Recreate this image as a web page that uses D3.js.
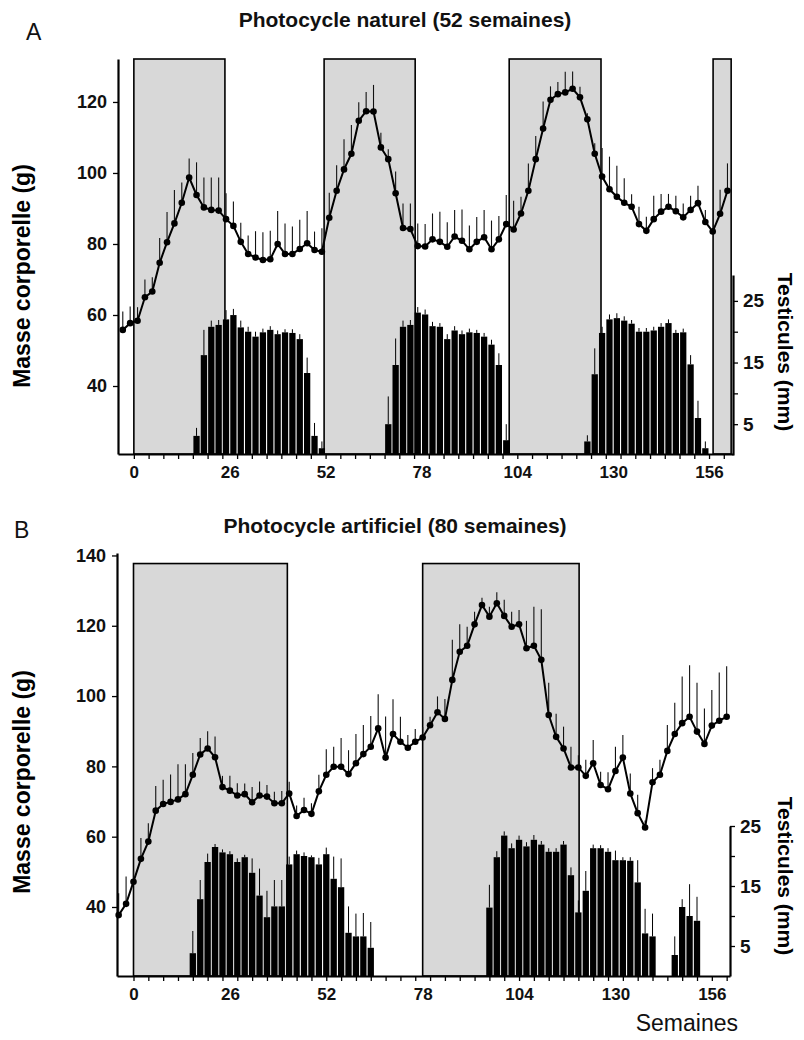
<!DOCTYPE html>
<html><head><meta charset="utf-8">
<script src="https://cdn.jsdelivr.net/npm/d3@7"></script>
<style>
body{margin:0;background:#fff}
text{font-family:"Liberation Sans",Arial,Helvetica,sans-serif}
</style>
</head><body>
<svg id="chart" width="804" height="1040"></svg>
<script>
// ---------------- DATA ----------------
// Panel A: natural photocycle (52 weeks)
const weeksA = [-3,-1,1,3,5,7,9,11,13,15,17,19,21,23,25,27,29,31,33,35,37,39,41,43,45,47,49,51,53,55,57,59,61,63,65,67,69,71,73,75,77,79,81,83,85,87,89,91,93,95,97,99,101,103,105,107,109,111,113,115,117,119,121,123,125,127,129,131,133,135,137,139,141,143,145,147,149,151,153,155,157,159,161];
const massA = [55.8,57.7,58.4,65.0,66.6,74.7,80.5,85.8,91.6,98.7,
  93.8,90.3,89.6,89.4,87.0,85.1,80.6,77.2,76.2,75.5,
  75.7,80.0,77.2,77.2,78.6,80.2,78.3,77.8,87.4,95.0,
  101.0,105.4,114.7,117.4,117.3,107.2,103.9,94.3,84.5,84.2,
  79.4,79.3,81.3,80.6,79.2,82.1,80.9,78.5,80.6,81.9,
  78.5,81.3,85.6,84.1,88.6,95.0,103.9,112.5,120.6,122.2,
  122.7,123.7,121.3,115.1,105.4,99.0,95.4,93.3,91.6,90.5,
  85.6,83.7,87.0,89.1,90.5,89.2,87.5,89.6,91.5,86.2,
  83.5,88.5,95.0];
const massErrA = [5.2,4.7,3.8,5.0,4.0,7.0,8.5,9.4,5.7,5.4,
  9.2,8.4,9.1,9.3,7.3,6.9,5.4,5.2,7.4,7.8,
  8.0,9.3,8.6,7.7,8.2,9.1,5.2,6.6,7.0,7.2,
  8.5,8.1,5.2,5.4,7.5,4.1,2.8,6.1,6.9,7.2,
  6.4,6.3,7.3,8.5,6.9,7.5,8.8,6.7,7.0,7.7,
  8.1,6.6,8.2,8.1,4.7,7.7,6.5,7.6,3.8,3.4,
  5.8,4.9,3.0,1.7,3.0,8.0,9.2,8.7,6.9,3.5,
  4.9,4.0,6.6,5.0,3.6,4.4,3.9,4.0,4.9,3.4,
  1.0,6.8,7.7];
const testisWeeksA = [17,19,21,23,25,27,29,31,33,35,37,39,41,43,45,47,49,51,
  69,71,73,75,77,79,81,83,85,87,89,91,93,95,97,99,101,
  123,125,127,129,131,133,135,137,139,141,143,145,147,149,151,153,155];
const testisA = [3.1,16.2,20.8,21.1,22.0,22.7,20.7,20.0,19.2,19.9,20.3,19.6,19.9,19.8,18.8,13.3,3.1,1.1,
  5.0,14.6,20.8,21.1,23.1,22.8,20.9,20.8,18.8,20.2,19.6,19.9,19.8,19.2,17.9,14.6,2.4,
  2.2,13.1,19.8,22.0,22.2,21.8,21.3,20.0,20.0,20.2,20.8,21.4,19.8,19.9,14.7,6.0,1.1];
const testisErrA = [1.3,4.1,1.0,0.8,1.5,1.0,1.1,0.8,0.8,0.6,0.6,0.6,0.5,0.6,0.8,2.5,2.1,1.1,
  4.5,4.3,1.0,0.8,0.9,0.8,0.7,0.6,0.8,0.7,0.6,0.6,0.5,0.6,0.8,1.9,2.6,
  1.0,4.2,1.0,0.8,0.8,0.7,0.6,0.6,0.6,0.6,0.6,0.6,0.5,0.6,1.5,2.8,1.1];
const shortDaysA = [[0,24.7],[51.6,76.3],[101.8,126.7],[157.1,162.0]];

// Panel B: artificial photocycle (80 weeks)
const weeksB = [-4,-2,0,2,4,6,8,10,12,14,16,18,20,22,24,26,28,30,32,34,36,38,40,42,44,46,48,50,52,54,56,58,60,62,64,66,68,70,72,74,76,78,80,82,84,86,88,90,92,94,96,98,100,102,104,106,108,110,112,114,116,118,120,122,124,126,128,130,132,134,136,138,140,142,144,146,148,150,152,154,156,158,160];
const massB = [37.7,40.9,47.2,53.7,58.6,67.4,69.3,69.9,70.6,72.1,
  77.6,83.4,85.1,82.6,74.1,73.1,71.7,72.1,69.8,71.7,
  71.4,69.5,69.5,72.3,65.9,67.6,66.5,72.9,77.6,79.9,
  79.9,77.8,80.9,83.5,85.6,90.8,82.5,89.2,87.0,85.3,
  87.0,88.2,91.7,95.4,93.5,104.6,112.6,114.3,120.4,125.9,
  122.6,126.4,122.8,119.7,120.4,113.6,114.3,110.3,94.6,88.4,
  85.1,79.7,79.7,77.3,80.9,74.7,73.5,78.7,82.5,72.3,
  66.7,62.6,75.5,77.6,84.4,89.2,92.3,94.1,89.9,86.4,
  91.6,93.0,94.1];
const massErrB = [6.2,7.8,3.0,5.9,5.2,7.0,6.9,7.8,10.0,8.5,
  6.2,4.7,4.9,5.9,3.2,4.2,3.5,3.0,4.3,4.0,
  3.3,3.3,3.5,3.3,3.0,3.5,3.0,4.7,7.3,5.7,
  8.2,6.8,8.3,8.3,8.7,9.7,11.7,9.9,7.1,3.6,
  3.6,3.0,2.4,4.5,5.7,11.4,7.8,5.4,3.6,2.1,
  2.8,3.1,4.6,4.3,4.1,7.8,11.1,14.4,9.2,6.6,
  6.2,5.9,3.5,4.6,6.6,3.8,4.8,6.9,6.4,5.7,
  5.2,2.0,4.0,4.3,7.4,8.9,13.3,14.7,13.9,10.1,
  10.1,13.7,14.4];
const testisWeeksB = [16,18,20,22,24,26,28,30,32,34,36,38,40,42,44,46,48,50,52,54,56,58,60,62,64,
  96,98,100,102,104,106,108,110,112,114,116,118,120,122,124,126,128,130,132,134,136,138,140,
  146,148,150,152];
const testisB = [3.8,12.8,19.0,21.5,20.6,20.3,19.0,19.8,17.2,13.4,9.8,11.6,11.6,18.6,20.3,20.0,19.8,18.6,20.3,16.2,14.8,7.2,6.6,6.6,4.7,
  11.4,19.8,23.4,21.3,22.7,21.6,22.7,21.9,20.7,20.7,21.9,16.8,10.6,14.2,21.3,21.3,20.7,19.3,19.3,19.2,15.6,7.1,6.6,
  3.5,11.5,10.0,9.2];
const testisErrB = [3.7,3.2,1.4,0.5,0.5,0.5,0.6,0.4,2.4,4.5,4.4,4.4,4.4,1.3,0.6,0.6,0.3,1.1,1.1,3.7,4.8,4.4,3.8,3.9,4.3,
  3.8,1.0,0.7,0.8,0.7,0.7,0.8,0.6,0.6,0.6,0.6,1.3,2.0,3.3,0.6,0.5,0.6,1.6,0.5,0.6,3.7,4.1,3.8,
  3.1,1.3,5.3,4.0];
const shortDaysB = [[0,41.5],[78,120.2]];

const weekTicks = [0,26,52,78,104,130,156];
const massTicksA = [40,60,80,100,120];
const massTicksB = [40,60,80,100,120,140];
const testisTicks = [5,10,15,20,25];
const testisLabelled = [5,15,25];

// ---------------- DRAWING ----------------
const svg = d3.select("#chart");
const FONT = '"Liberation Sans",Arial,Helvetica,sans-serif';

function panel(o) {
  const g = svg.append("g");
  const x = d3.scaleLinear().domain(o.xDomain).range(o.xRange);
  const yL = d3.scaleLinear().domain(o.yLDomain).range(o.yLRange);
  const yR = d3.scaleLinear().domain(o.yRDomain).range(o.yRRange);
  const base = o.yLRange[0];
  const step = x(2) - x(0);

  // shaded short-day periods
  g.selectAll("rect.sd").data(o.shade).join("rect")
    .attr("x", d => x(d[0])).attr("width", d => x(d[1]) - x(d[0]))
    .attr("y", yL(o.shadeTop)).attr("height", base - yL(o.shadeTop))
    .attr("fill", "#d8d8d8").attr("stroke", "#000").attr("stroke-width", 1.6);

  // testis bars
  const bars = o.tw.map((w, i) => ({w, v: o.tv[i], e: o.te[i]}));
  g.selectAll("rect.bar").data(bars).join("rect")
    .attr("x", d => x(d.w) - (step - 1.1) / 2).attr("width", step - 1.1)
    .attr("y", d => yR(d.v)).attr("height", d => base - yR(d.v))
    .attr("fill", "#000");
  g.selectAll("line.berr").data(bars).join("line")
    .attr("x1", d => x(d.w)).attr("x2", d => x(d.w))
    .attr("y1", d => yR(d.v)).attr("y2", d => yR(d.v + d.e))
    .attr("stroke", "#000").attr("stroke-width", 1);

  // body mass
  const pts = o.mw.map((w, i) => ({w, v: o.mv[i], e: o.me[i]}));
  g.selectAll("line.merr").data(pts).join("line")
    .attr("x1", d => x(d.w)).attr("x2", d => x(d.w))
    .attr("y1", d => yL(d.v)).attr("y2", d => yL(d.v + d.e))
    .attr("stroke", "#111").attr("stroke-width", 1.1);
  g.append("path").datum(pts)
    .attr("d", d3.line().x(d => x(d.w)).y(d => yL(d.v)))
    .attr("fill", "none").attr("stroke", "#000").attr("stroke-width", 2);
  g.selectAll("circle").data(pts).join("circle")
    .attr("cx", d => x(d.w)).attr("cy", d => yL(d.v)).attr("r", 3.3)
    .attr("fill", "#000");

  // axes
  const xMinor = g.append("g").attr("transform", `translate(0,${base})`)
    .call(d3.axisBottom(x).tickValues(d3.range(0, 161, 4)).tickFormat("").tickSize(5).tickSizeOuter(0));
  xMinor.select(".domain").attr("stroke-width", 2.2);
  xMinor.selectAll(".tick line").attr("stroke-width", 1.3);
  const xMajor = g.append("g").attr("transform", `translate(0,${base})`)
    .call(d3.axisBottom(x).tickValues(weekTicks).tickSize(0).tickPadding(12));
  xMajor.select(".domain").remove();
  xMajor.selectAll("text").attr("font-size", 17).attr("font-weight", "bold")
    .attr("font-family", FONT).attr("fill", "#111");

  const left = g.append("g").attr("transform", `translate(${o.xRange[0]},0)`)
    .call(d3.axisLeft(yL).tickValues(o.massTicks).tickSize(5).tickSizeOuter(0).tickPadding(6));
  left.select(".domain").attr("stroke-width", 2.2);
  left.selectAll(".tick line").attr("stroke-width", 1.3);
  left.selectAll("text").attr("font-size", 18).attr("font-weight", "bold")
    .attr("font-family", FONT).attr("fill", "#111");

  const right = g.append("g").attr("transform", `translate(${o.xRange[1]},0)`)
    .call(d3.axisRight(yR).tickValues(testisTicks)
      .tickFormat(d => testisLabelled.includes(d) ? d : "")
      .tickSize(5).tickSizeOuter(0).tickPadding(5));
  right.select(".domain").attr("stroke-width", 2.2);
  right.selectAll(".tick line").attr("stroke-width", 1.3);
  right.selectAll("text").attr("font-size", 19).attr("font-weight", "bold")
    .attr("font-family", FONT).attr("fill", "#111");

  // axis titles
  svg.append("text").attr("transform", `translate(${o.leftTitle[0]},${o.leftTitle[1]}) rotate(-90)`)
    .attr("text-anchor", "middle").attr("font-size", 23).attr("font-weight", "bold")
    .text("Masse corporelle (g)");
  svg.append("text").attr("transform", `translate(${o.rightTitle[0]},${o.rightTitle[1]}) rotate(90)`)
    .attr("text-anchor", "middle").attr("font-size", 21).attr("font-weight", "bold")
    .text("Testicules (mm)");
  svg.append("text").attr("x", o.title[0]).attr("y", o.title[1])
    .attr("text-anchor", "middle").attr("font-size", 21).attr("font-weight", "bold").attr("fill", "#111")
    .text(o.titleText);
  svg.append("text").attr("x", o.letter[0]).attr("y", o.letter[1])
    .attr("font-size", 23).attr("fill", "#111").text(o.letterText);
}

panel({
  xDomain: [-4.3, 162.5], xRange: [118, 733],
  yLDomain: [20.85, 132.1], yLRange: [454, 59],
  yRDomain: [0, 29.2], yRRange: [455, 275],
  shade: shortDaysA, shadeTop: 132.1,
  tw: testisWeeksA, tv: testisA, te: testisErrA,
  mw: weeksA, mv: massA, me: massErrA,
  massTicks: massTicksA,
  leftTitle: [30, 276], rightTitle: [778, 352],
  title: [405, 27], titleText: "Photocycle naturel (52 semaines)",
  letter: [26, 40], letterText: "A"
});
panel({
  xDomain: [-4.45, 160.9], xRange: [117, 730],
  yLDomain: [20.37, 140.7], yLRange: [976, 553],
  yRDomain: [0, 25], yRRange: [976, 826],
  shade: shortDaysB, shadeTop: 137.7,
  tw: testisWeeksB, tv: testisB, te: testisErrB,
  mw: weeksB, mv: massB, me: massErrB,
  massTicks: massTicksB,
  leftTitle: [30, 782], rightTitle: [778, 876],
  title: [395, 533], titleText: "Photocycle artificiel (80 semaines)",
  letter: [14, 538], letterText: "B"
});
svg.append("text").attr("x", 738).attr("y", 1031).attr("text-anchor", "end")
  .attr("font-size", 23).attr("fill", "#111").text("Semaines");
</script>
</body></html>
